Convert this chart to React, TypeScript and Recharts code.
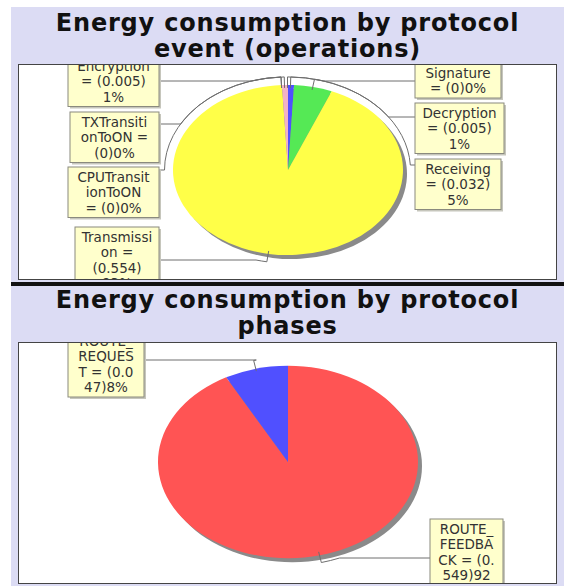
import { PieChart, Pie, Cell } from "recharts";

// protocol events, listed clockwise from 12 o'clock
const eventNames = [
  "Signature",
  "Decryption",
  "Receiving",
  "Transmission",
  "CPUTransitionToON",
  "TXTransitionToON",
  "Encryption",
];
const eventValues = [0, 0.005, 0.032, 0.554, 0, 0, 0.005];
const eventColors = ["#ff5555", "#5050ff", "#55e955", "#ffff48", "#ff55ff", "#55ffff", "#f3b2c6"];

// protocol phases, clockwise from 12 o'clock
const phaseNames = ["ROUTE_FEEDBACK", "ROUTE_REQUEST"];
const phaseValues = [0.549, 0.047];
const phaseColors = ["#ff5454", "#5050ff"];

type LabelBox = {
  x: number;
  y: number;
  w: number;
  anchorY: number;
  side: "left" | "right";
  breaks: number[];
};

// label boxes, in plot coordinates, same order as the slices
const eventBoxes: LabelBox[] = [
  { x: 396, y: -2, w: 86, anchorY: 16, side: "right", breaks: [9] },
  { x: 396, y: 38, w: 89, anchorY: 52, side: "right", breaks: [10, 9] },
  { x: 396, y: 94, w: 86, anchorY: 100, side: "right", breaks: [9, 9] },
  { x: 56, y: 162, w: 84, anchorY: 195, side: "left", breaks: [10, 4, 7] },
  { x: 49, y: 102, w: 91, anchorY: 105, side: "left", breaks: [10, 7] },
  { x: 51, y: 47, w: 89, anchorY: 59, side: "left", breaks: [10, 8] },
  { x: 49, y: -9, w: 91, anchorY: 16, side: "left", breaks: [10, 9] },
];

const phaseBoxes: LabelBox[] = [
  { x: 411, y: 176, w: 73, anchorY: 215, side: "right", breaks: [6, 6, 8, 6] },
  { x: 49, y: -12, w: 76, anchorY: 17, side: "left", breaks: [6, 6, 8] },
];

const SQUASH = 0.74;
const LINE_H = 15.5;
const LAVENDER = "#dcdcf4";

const splitLabel = (text: string, breaks: number[]) => {
  const lines: string[] = [];
  let rest = text;
  for (const n of breaks) {
    lines.push(rest.slice(0, n).trim());
    rest = rest.slice(n).trim();
  }
  if (rest) lines.push(rest);
  return lines;
};

// leader line: from the box, round the pie outline, then into the slice
const leaderPath = (
  cx: number,
  cy: number,
  rx: number,
  ry: number,
  midAngle: number,
  ax: number,
  ay: number
) => {
  const gap = 8;
  const ex = rx + gap;
  const ey = ry + gap;
  const t1 = (-midAngle * Math.PI) / 180;
  const px = cx + (rx - 3) * Math.cos(t1);
  const py = cy + (ry - 3) * Math.sin(t1);
  const qx = cx + ex * Math.cos(t1);
  const qy = cy + ey * Math.sin(t1);
  const s = Math.max(-1, Math.min(1, (ay - cy) / ey));
  const dx = ex * Math.sqrt(1 - s * s);
  const sx = ax < cx ? cx - dx : cx + dx;
  const t0 = Math.atan2((ay - cy) / ey, (sx - cx) / ex);
  let d = t1 - t0;
  while (d > Math.PI) d -= 2 * Math.PI;
  while (d <= -Math.PI) d += 2 * Math.PI;
  const sweep = d > 0 ? 1 : 0;
  return `M${ax},${ay} L${sx},${ay} A${ex},${ey} 0 0 ${sweep} ${qx},${qy} L${px},${py}`;
};

type PieProps = {
  names: string[];
  values: number[];
  colors: string[];
  boxes: LabelBox[];
  width: number;
  height: number;
  cx: number;
  cy: number;
  rx: number;
};

function EllipsePie({ names, values, colors, boxes, width, height, cx, cy, rx }: PieProps) {
  const data = names.map((name, i) => ({ name, value: values[i] }));
  const ry = rx * SQUASH;
  const size = rx * 2 + 16;
  const noMargin = { top: 0, right: 0, bottom: 0, left: 0 };

  const renderLabel = (p: any) => {
    const box = boxes[p.index];
    const text = `${p.name} = (${p.value})${Math.round(p.percent * 100)}%`;
    const lines = splitLabel(text, box.breaks);
    const h = lines.length * LINE_H + 4;
    const ax = box.side === "left" ? box.x + box.w : box.x;
    return (
      <g key={`label-${p.index}`}>
        <path
          d={leaderPath(p.cx, p.cy, rx, ry, p.midAngle, ax, box.anchorY)}
          fill="none"
          stroke="#6e6e6e"
          strokeWidth={1}
        />
        <rect x={box.x + 2} y={box.y + 2} width={box.w} height={h} fill="#c6c6bc" />
        <rect x={box.x} y={box.y} width={box.w} height={h} fill="#ffffcc" stroke="#8a8a7e" />
        {lines.map((ln, i) => (
          <text
            key={i}
            x={box.x + box.w / 2}
            y={box.y + 2 + LINE_H / 2 + i * LINE_H}
            textAnchor="middle"
            dominantBaseline="central"
            fontSize={13.5}
            fontFamily="DejaVu Sans"
            fill="#333"
          >
            {ln}
          </text>
        ))}
      </g>
    );
  };

  return (
    <div style={{ position: "relative", width, height }}>
      <div
        style={{
          position: "absolute",
          left: cx - size / 2,
          top: cy - size / 2,
          width: size,
          height: size,
          transform: `scaleY(${SQUASH})`,
        }}
      >
        <PieChart width={size} height={size} margin={noMargin}>
          {/* drop shadow */}
          <Pie
            data={data}
            dataKey="value"
            nameKey="name"
            cx={size / 2 + 4}
            cy={size / 2 + 4 / SQUASH}
            outerRadius={rx}
            startAngle={90}
            endAngle={-270}
            fill="#8a8a8a"
            stroke="none"
            isAnimationActive={false}
          />
          <Pie
            data={data}
            dataKey="value"
            nameKey="name"
            cx={size / 2}
            cy={size / 2}
            outerRadius={rx}
            startAngle={90}
            endAngle={-270}
            stroke="none"
            isAnimationActive={false}
          >
            {colors.map((c, i) => (
              <Cell key={i} fill={c} />
            ))}
          </Pie>
        </PieChart>
      </div>
      <div style={{ position: "absolute", left: 0, top: 0 }}>
        <PieChart width={width} height={height} margin={noMargin}>
          <Pie
            data={data}
            dataKey="value"
            nameKey="name"
            cx={cx}
            cy={cy}
            outerRadius={rx}
            startAngle={90}
            endAngle={-270}
            fill="none"
            stroke="none"
            label={renderLabel}
            labelLine={false}
            isAnimationActive={false}
          />
        </PieChart>
      </div>
    </div>
  );
}

const titleStyle = (top: number): React.CSSProperties => ({
  position: "absolute",
  left: 11,
  top,
  width: 553,
  textAlign: "center",
  fontFamily: "DejaVu Sans",
  fontWeight: "bold",
  fontSize: 24,
  letterSpacing: 0.8,
  lineHeight: "25.5px",
  color: "#111",
});

const plotStyle = (top: number, height: number): React.CSSProperties => ({
  position: "absolute",
  left: 19,
  top,
  width: 537,
  height,
  background: "#fff",
  outline: "1px solid #444",
  overflow: "hidden",
});

export default function App() {
  return (
    <div
      style={{
        position: "absolute",
        left: 0,
        top: 0,
        width: 564,
        height: 586,
        background: "#fff",
        overflow: "hidden",
      }}
    >
      <div style={{ position: "absolute", left: 11, top: 7, width: 553, height: 275, background: LAVENDER }} />
      <div style={{ position: "absolute", left: 11, top: 282, width: 553, height: 4, background: "#111" }} />
      <div style={{ position: "absolute", left: 11, top: 286, width: 553, height: 300, background: LAVENDER }} />

      <div style={titleStyle(11)}>
        Energy consumption by protocol
        <br />
        event (operations)
      </div>
      <div style={plotStyle(65, 214)}>
        <EllipsePie
          names={eventNames}
          values={eventValues}
          colors={eventColors}
          boxes={eventBoxes}
          width={537}
          height={214}
          cx={268.5}
          cy={105}
          rx={115}
        />
      </div>

      <div style={titleStyle(288)}>
        Energy consumption by protocol
        <br />
        phases
      </div>
      <div style={plotStyle(343, 240)}>
        <EllipsePie
          names={phaseNames}
          values={phaseValues}
          colors={phaseColors}
          boxes={phaseBoxes}
          width={537}
          height={240}
          cx={268.5}
          cy={118.5}
          rx={130}
        />
      </div>
    </div>
  );
}
